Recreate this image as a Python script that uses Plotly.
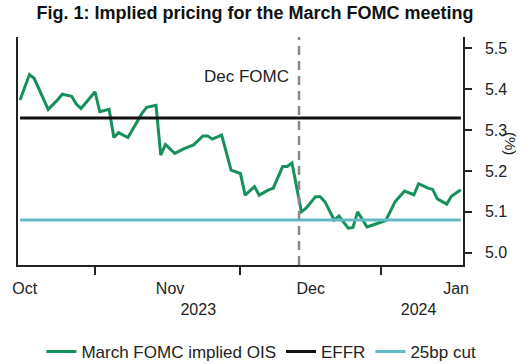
import plotly.graph_objects as go

# ---- data ----
ois_dates = ["2023-09-30", "2023-10-02", "2023-10-03", "2023-10-06", "2023-10-08", "2023-10-09",
             "2023-10-11", "2023-10-12", "2023-10-13", "2023-10-15", "2023-10-16", "2023-10-17",
             "2023-10-19", "2023-10-20", "2023-10-21", "2023-10-23", "2023-10-26", "2023-10-27",
             "2023-10-29", "2023-10-30", "2023-10-31", "2023-11-02", "2023-11-04", "2023-11-06",
             "2023-11-08", "2023-11-09", "2023-11-10", "2023-11-12", "2023-11-14", "2023-11-16",
             "2023-11-17", "2023-11-19", "2023-11-20", "2023-11-22", "2023-11-23", "2023-11-25",
             "2023-11-26", "2023-11-27", "2023-11-29", "2023-11-30", "2023-12-02", "2023-12-03",
             "2023-12-04", "2023-12-06", "2023-12-07", "2023-12-09", "2023-12-10", "2023-12-11",
             "2023-12-13", "2023-12-15", "2023-12-17", "2023-12-19", "2023-12-21", "2023-12-23",
             "2023-12-24", "2023-12-26", "2023-12-27", "2023-12-28", "2023-12-30", "2023-12-31",
             "2024-01-02"]
ois_values = [5.374, 5.436, 5.427, 5.351, 5.374, 5.388,
              5.383, 5.364, 5.353, 5.382, 5.394, 5.345,
              5.351, 5.282, 5.294, 5.282, 5.341, 5.356,
              5.361, 5.239, 5.265, 5.243, 5.255, 5.264,
              5.286, 5.286, 5.278, 5.288, 5.202, 5.194,
              5.141, 5.162, 5.141, 5.154, 5.158, 5.211,
              5.211, 5.220, 5.100, 5.109, 5.137, 5.137,
              5.125, 5.080, 5.090, 5.060, 5.062, 5.100,
              5.063, 5.071, 5.079, 5.125, 5.151, 5.142,
              5.169, 5.158, 5.155, 5.132, 5.119, 5.138,
              5.154]

level_dates = ["2023-09-30", "2024-01-02"]
effr_values = [5.33, 5.33]
cut_values = [5.08, 5.08]

dec_fomc_marker = "2023-11-28 12:00"

month_tick_dates = ["2023-10-01", "2023-11-01", "2023-12-01", "2024-01-01"]
month_tick_labels = ["Oct", "Nov", "Dec", "Jan"]
year_tick_dates = ["2023-11-07", "2023-12-24"]
year_tick_labels = ["2023", "2024"]
minor_tick_dates = ["2023-10-16", "2023-11-16", "2023-12-16"]

y_ticks = [5.0, 5.1, 5.2, 5.3, 5.4, 5.5]

GREEN = "#17915b"
BLACK = "#111111"
CYAN = "#62bac6"
TEXT = "#222222"
FONT = "Liberation Sans, Arial, sans-serif"

fig = go.Figure()
fig.add_trace(go.Scatter(x=ois_dates, y=ois_values, mode="lines", name="March FOMC implied OIS",
                         line=dict(color=GREEN, width=3)))
fig.add_trace(go.Scatter(x=level_dates, y=effr_values, mode="lines", name="EFFR",
                         line=dict(color=BLACK, width=3)))
fig.add_trace(go.Scatter(x=level_dates, y=cut_values, mode="lines", name="25bp cut",
                         line=dict(color=CYAN, width=3), xaxis="x2"))

fig.add_vline(x=dec_fomc_marker, line=dict(color="#8a8a8a", width=2.5, dash="9px,6px"))

x_range = ["2023-09-29 13:30", "2024-01-02 11:15"]

fig.update_layout(
    width=530, height=364,
    margin=dict(l=15, r=67, t=37, b=99),
    paper_bgcolor="white", plot_bgcolor="white",
    font=dict(family=FONT, size=16, color=TEXT),
    title=dict(text="<b>Fig. 1: Implied pricing for the March FOMC meeting</b>",
               x=0.481, xanchor="center", y=0.965, yanchor="middle",
               font=dict(family=FONT, size=18, color="#111111")),
    showlegend=True,
    legend=dict(orientation="h", x=0.547, xanchor="center",
                yref="container", y=0.033, yanchor="middle",
                font=dict(size=17, color=TEXT), bgcolor="rgba(0,0,0,0)",
                itemwidth=30, tracegroupgap=0),
    xaxis=dict(type="date", range=x_range, showgrid=False, zeroline=False,
               showline=True, linecolor="#222222", linewidth=1.5, mirror=False,
               tickmode="array", tickvals=minor_tick_dates, ticktext=["", "", ""],
               ticks="outside", ticklen=8, tickcolor="#222222", tickwidth=1.5),
    xaxis2=dict(type="date", range=x_range, overlaying="x", matches="x", anchor="y", side="bottom",
                showgrid=False, zeroline=False, showline=False,
                tickmode="array",
                tickvals=month_tick_dates + year_tick_dates,
                ticktext=month_tick_labels + ["<br>" + t for t in year_tick_labels],
                ticks="", tickangle=0, ticklabelstandoff=12,
                tickfont=dict(size=16, color=TEXT)),
    yaxis=dict(range=[4.97, 5.528], side="right", showgrid=False, zeroline=False,
               showline=True, linecolor="#222222", linewidth=1.5, mirror=True,
               tickmode="array", tickvals=y_ticks, tickformat=".1f",
               ticks="outside", ticklen=7, tickcolor="#222222", tickwidth=1.5,
               ticklabelstandoff=10, tickfont=dict(size=16, color=TEXT)),
    annotations=[
        dict(text="Dec FOMC", xref="paper", yref="paper", x=0.613, y=0.826,
             xanchor="right", yanchor="middle", showarrow=False,
             font=dict(size=17, color=TEXT)),
        dict(text="(%)", xref="paper", yref="paper", x=1.108, y=0.535,
             xanchor="center", yanchor="middle", showarrow=False, textangle=90,
             font=dict(size=15, color=TEXT)),
    ],
)

fig.write_html("out.html", config={"displayModeBar": False},
               post_script="document.body.style.margin='0px';")
